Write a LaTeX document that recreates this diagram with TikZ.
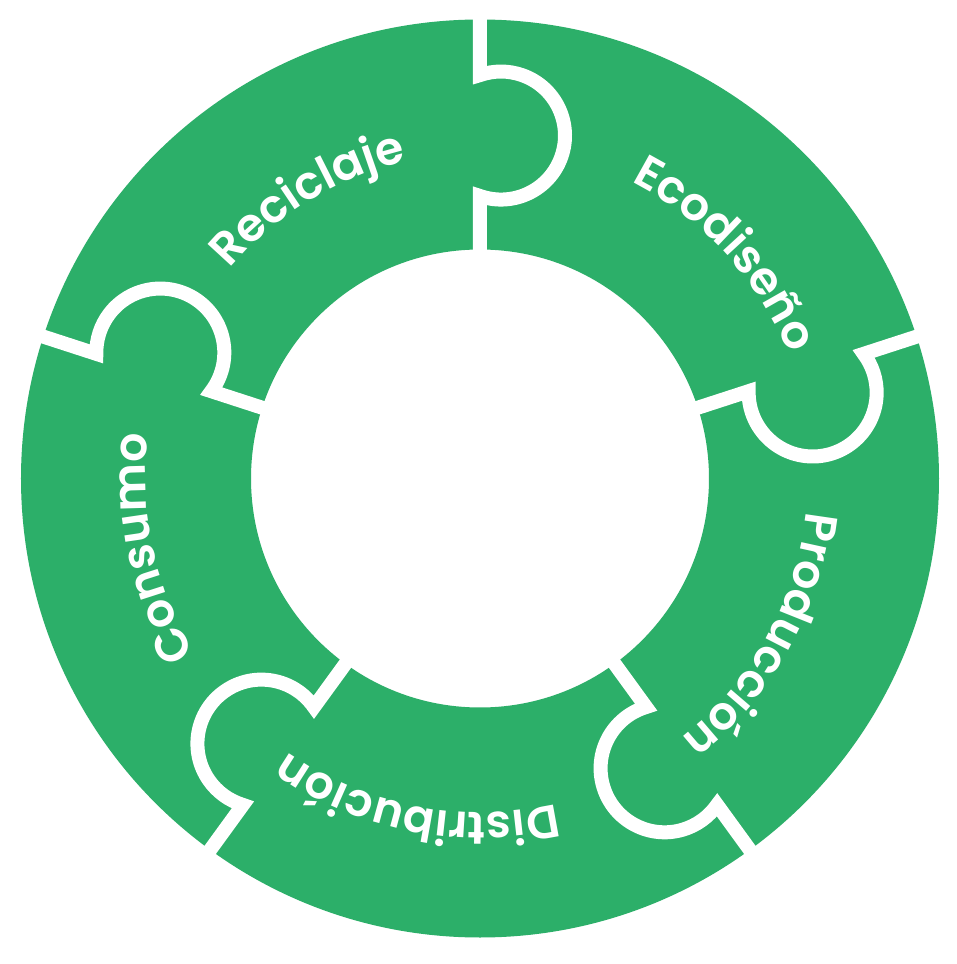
\documentclass[tikz,border=0pt]{standalone}
\usepackage{fontspec}
\setmainfont{Poppins}[BoldFont={Poppins SemiBold}]
\usetikzlibrary{decorations.text}
\definecolor{puzzlegreen}{RGB}{44,175,105}
\newcommand{\piecelabel}[3]{\path[decorate,decoration={text along path,text align=center,text color=white,
  text={|\fontsize{46}{50}\selectfont\bfseries|#3}}] ({#1+40}:#2) arc[start angle={#1+40},end angle={#1-40},radius=#2];}

\begin{document}
\begin{tikzpicture}[x=1pt,y=1pt]
\tikzstyle{ring}=[fill=puzzlegreen, even odd rule]
\tikzstyle{gap}=[draw=white, line width=14pt]
\fill[white] (-480,-485.5) rectangle (477,478.5);
\useasboundingbox (-480,-485.5) rectangle (477,478.5);
\path[ring] (0,0) circle[radius=459] (0,0) circle[radius=229];
\foreach \a in {90,18,-54,-126,162}
  \path[gap,rotate=\a-90] (0,215) -- (0,282.5) arc[start angle=-109.15,end angle=109.15,radius=64] -- (0,475);
\piecelabel{121.5}{326}{Reciclaje}
\piecelabel{42.5}{333}{Ecodiseño}
\piecelabel{-29}{328}{Producción}
\piecelabel{-101}{334}{Distribución}
\piecelabel{192}{334}{Consumo}
\end{tikzpicture}
\end{document}
